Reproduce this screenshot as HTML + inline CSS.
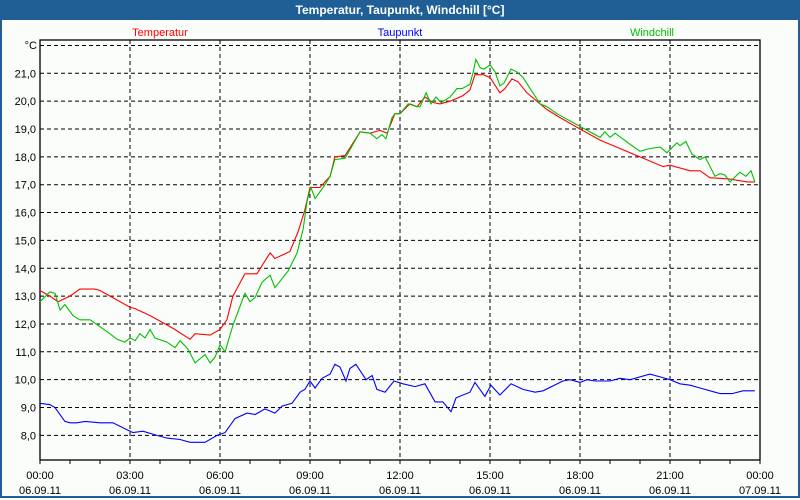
<!DOCTYPE html>
<html><head><meta charset="utf-8"><style>
body{margin:0;width:800px;height:500px;overflow:hidden;background:#fff;font-family:"Liberation Sans",sans-serif}
#frame{position:absolute;left:0;top:0;width:796px;height:496px;border:2px solid #1f5f95;border-top:none;background:#fbfdfb}
#titlebar{position:absolute;left:0;top:0;width:800px;height:20px;background:#1f5f95;color:#fff;font-weight:bold;font-size:12px;text-align:center;line-height:20px}
svg{position:absolute;left:0;top:0}
</style></head><body>
<div id="frame"></div>
<div id="titlebar">Temperatur, Taupunkt, Windchill [°C]</div>
<svg id="chart" width="800" height="500"></svg>
<script>
const tempT=[0,0.33,0.6,1,1.33,1.83,2,2.5,3,3.17,3.67,4.17,4.5,5,5.17,5.67,6,6.23,6.43,6.83,7.23,7.67,7.83,8.33,8.6,8.83,9,9.33,9.67,9.83,10.17,10.67,11,11.33,11.57,11.83,12,12.33,12.57,12.83,13.1,13.33,13.67,14.1,14.33,14.5,14.77,15,15.33,15.5,15.73,15.93,16.23,16.67,16.9,17.27,18,18.67,19.33,20,20.77,21,21.67,22,22.33,23,23.57,23.83];
const tempV=[13.2,13.0,12.8,13.0,13.25,13.25,13.2,12.9,12.6,12.55,12.3,12.0,11.8,11.45,11.65,11.6,11.8,12.15,13.0,13.8,13.8,14.55,14.35,14.6,15.3,16.1,16.9,16.9,17.3,18.0,18.05,18.9,18.85,18.95,18.85,19.55,19.55,19.9,19.8,20.15,19.95,19.9,20.0,20.2,20.4,20.95,20.95,20.85,20.3,20.45,20.8,20.7,20.3,19.9,19.7,19.45,19.0,18.6,18.3,18.0,17.65,17.7,17.5,17.5,17.25,17.2,17.1,17.1];
const windT=[0,0.33,0.5,0.67,0.83,1.1,1.33,1.67,2,2.33,2.57,2.83,3,3.17,3.33,3.5,3.67,3.83,4.23,4.5,4.67,4.93,5.17,5.5,5.67,5.83,6,6.17,6.43,6.83,7,7.17,7.4,7.67,7.83,8.27,8.57,8.77,8.9,9.03,9.17,9.5,9.67,9.83,10.17,10.67,11,11.23,11.4,11.53,11.73,11.83,12,12.27,12.57,12.67,12.87,13.03,13.2,13.37,13.67,13.9,14.07,14.33,14.43,14.53,14.67,14.8,15,15.17,15.33,15.47,15.7,15.9,16.1,16.43,16.67,16.9,17.23,18.67,18.83,19,19.17,19.67,20,20.33,20.67,20.9,21.23,21.33,21.53,21.73,22,22.17,22.5,22.67,22.83,23,23.33,23.53,23.7,23.83];
const windV=[12.8,13.15,13.1,12.5,12.7,12.3,12.15,12.15,11.9,11.65,11.45,11.35,11.5,11.4,11.65,11.5,11.8,11.5,11.35,11.15,11.4,11.1,10.6,10.9,10.6,10.8,11.25,11.0,11.95,13.1,12.8,12.95,13.5,13.75,13.3,13.9,14.55,15.4,16.4,16.9,16.5,17.0,17.3,17.9,17.95,18.9,18.85,18.65,18.8,18.65,19.4,19.55,19.55,19.9,19.8,19.8,20.3,19.9,20.15,19.95,20.15,20.45,20.45,20.6,21.0,21.5,21.2,21.15,21.3,21.05,20.55,20.65,21.15,21.05,20.85,20.3,19.9,19.8,19.55,18.7,18.9,18.7,18.85,18.45,18.2,18.3,18.35,18.15,18.5,18.4,18.55,18.1,17.9,18.0,17.3,17.4,17.35,17.1,17.45,17.3,17.5,17.1];
const dewT=[0,0.33,0.5,0.83,1,1.23,1.5,2,2.43,2.9,3.1,3.43,3.9,4.23,4.67,5,5.5,5.9,6.17,6.5,6.9,7.17,7.5,7.83,8.07,8.4,8.67,8.83,9,9.17,9.4,9.67,9.83,10.0,10.2,10.33,10.53,10.87,11.07,11.23,11.5,11.8,12.1,12.5,12.83,13.17,13.43,13.7,13.87,14.33,14.5,14.83,15.03,15.33,15.7,16.1,16.5,16.77,17.43,17.67,18,18.23,18.5,19,19.33,19.67,20.33,20.67,21,21.33,21.67,22,22.5,22.67,23.07,23.43,23.83];
const dewV=[9.15,9.1,9.0,8.5,8.45,8.45,8.5,8.45,8.45,8.2,8.1,8.15,8.0,7.9,7.85,7.75,7.75,8.0,8.1,8.6,8.8,8.75,8.95,8.8,9.05,9.15,9.55,9.65,9.95,9.7,10.05,10.2,10.55,10.45,9.95,10.4,10.55,10.0,10.15,9.65,9.55,9.95,9.85,9.75,9.85,9.2,9.2,8.85,9.35,9.55,9.9,9.4,9.8,9.45,9.85,9.65,9.55,9.6,9.95,10.0,9.9,10.0,9.95,9.95,10.05,10.0,10.2,10.1,10.0,9.85,9.8,9.7,9.55,9.5,9.5,9.6,9.6];
const yTicks=[8,9,10,11,12,13,14,15,16,17,18,19,20,21];
const xLabels=["00:00","03:00","06:00","09:00","12:00","15:00","18:00","21:00","00:00"];
const dateLabels=["06.09.11","06.09.11","06.09.11","06.09.11","06.09.11","06.09.11","06.09.11","06.09.11","07.09.11"];

const L=40,R=760,T=40,B=460;
const X=h=>L+h*(R-L)/24;
const Y=v=>73.3+(21-v)*27.85;
const svg=document.getElementById('chart');
const NS='http://www.w3.org/2000/svg';
function mk(tag,attrs,parent){const e=document.createElementNS(NS,tag);for(const k in attrs)e.setAttribute(k,attrs[k]);(parent||svg).appendChild(e);return e;}
const grid=mk('g',{});


[...yTicks,22].forEach(v=>{mk('line',{x1:L,x2:R,y1:Y(v),y2:Y(v),stroke:'#000','stroke-dasharray':'4,3','stroke-width':1},grid);});
for(let i=1;i<8;i++){mk('line',{x1:X(i*3),x2:X(i*3),y1:T,y2:B,stroke:'#000','stroke-dasharray':'4,3'},grid);}
const box=mk('rect',{x:L,y:T,width:R-L,height:B-T,fill:'none',stroke:'#000','stroke-width':1.3});


for(let h=0;h<=24;h++){mk('line',{x1:X(h),x2:X(h),y1:B,y2:B+4,stroke:'#000'});}
yTicks.forEach(v=>{const t=mk('text',{x:36,y:Y(v)+4,'text-anchor':'end','font-size':11,fill:'#000'});t.textContent=v.toFixed(1).replace('.',',');

});
const u=mk('text',{x:37,y:49,'text-anchor':'end','font-size':11});u.textContent='°C';


xLabels.forEach((s,i)=>{const t=mk('text',{x:X(i*3),y:479,'text-anchor':'middle','font-size':11});t.textContent=s;


const d=mk('text',{x:X(i*3),y:494,'text-anchor':'middle','font-size':11});d.textContent=dateLabels[i];

});
[['Temperatur','#ff0000',160],['Taupunkt','#0000ff',400],['Windchill','#00c000',652]].forEach(a=>{const t=mk('text',{x:a[2],y:36,'text-anchor':'middle','font-size':11,fill:a[1]});t.textContent=a[0];

});
function line(ts,vs,col,name){const p=mk('polyline',{points:ts.map((t,i)=>X(t).toFixed(1)+','+Y(vs[i]).toFixed(1)).join(' '),fill:'none',stroke:col,'stroke-width':1.1});

}
line(dewT,dewV,'#0000ff','taupunkt-line');
line(tempT,tempV,'#ff0000','temperatur-line');
line(windT,windV,'#00c000','windchill-line');
</script>
</body></html>
